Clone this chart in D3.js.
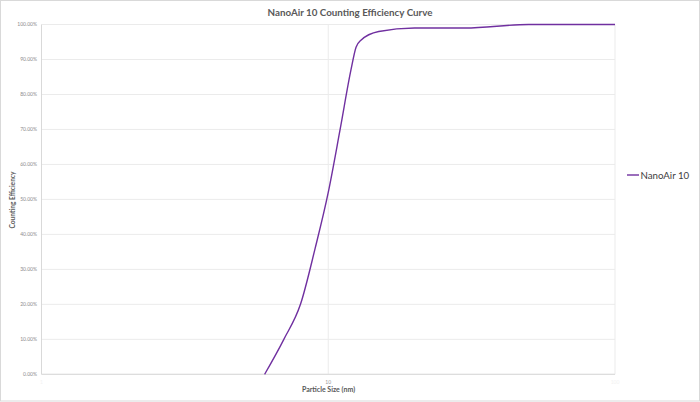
<!DOCTYPE html>
<html><head><meta charset="utf-8">
<script src="https://cdn.jsdelivr.net/npm/d3@7"></script>
<style>body{margin:0;background:#fff;}svg{display:block;}text{font-family:Lato,"Open Sans",sans-serif;}</style>
</head><body>
<svg id="c" width="700" height="402"></svg>
<script>
const sizes = [6, 7, 8, 9, 10, 11, 12, 12.5, 13, 15, 20, 30, 50, 100];
const efficiency = [0, 0.10, 0.20, 0.36, 0.52, 0.70, 0.87, 0.935, 0.955, 0.98, 0.99, 0.99, 1.0, 1.0];
const xTicks = [1, 10, 100];
const yTicks = [0, 0.1, 0.2, 0.3, 0.4, 0.5, 0.6, 0.7, 0.8, 0.9, 1.0];
const seriesName = "NanoAir 10";
const title = "NanoAir 10 Counting Efficiency Curve";

const svg = d3.select("#c");
const L = 41.5, R = 615, T = 24.5, B = 374.3;
const x = d3.scaleLog().domain([1, 100]).range([L, R]);
const y = d3.scaleLinear().domain([0, 1]).range([B, T]);

svg.append("rect").attr("x", 0.5).attr("y", 0.5).attr("width", 699).attr("height", 400.5)
  .attr("fill", "#fff").attr("stroke", "#d9d9d9");

svg.append("g").selectAll("line").data(yTicks).join("line")
  .attr("x1", L).attr("x2", R).attr("y1", d => y(d)).attr("y2", d => y(d))
  .attr("stroke", "#ebebeb").attr("stroke-width", 1);
svg.append("g").selectAll("line").data(xTicks.slice(1)).join("line")
  .attr("x1", d => x(d)).attr("x2", d => x(d)).attr("y1", T).attr("y2", B)
  .attr("stroke", "#ebebeb").attr("stroke-width", 1);
svg.append("line").attr("x1", L).attr("x2", L).attr("y1", T).attr("y2", B).attr("stroke", "#d9d9d9");
svg.append("line").attr("x1", L).attr("x2", R).attr("y1", B).attr("y2", B).attr("stroke", "#d9d9d9");

svg.append("g").selectAll("text").data(yTicks).join("text")
  .attr("x", 37).attr("y", d => y(d) + 1.8).attr("text-anchor", "end")
  .attr("font-size", 5).attr("fill", "#8c8c8c")
  .text(d => d3.format(".2%")(d));
svg.append("g").selectAll("text").data(xTicks).join("text")
  .attr("x", d => x(d)).attr("y", 384).attr("text-anchor", "middle")
  .attr("font-size", 5).attr("fill", d => d === 10 ? "#999999" : "#f2f2f2")
  .text(d => d);

const line = d3.line().x((d, i) => x(sizes[i])).y(d => y(d)).curve(d3.curveMonotoneX);
svg.append("path").datum(efficiency).attr("d", line)
  .attr("fill", "none").attr("stroke", "#7030a0").attr("stroke-width", 1.4);

svg.append("text").attr("x", 350).attr("y", 15.5).attr("text-anchor", "middle")
  .attr("font-size", 9.8).attr("font-weight", "bold").attr("fill", "#595959").text(title);
svg.append("text").attr("x", 328.5).attr("y", 392).attr("text-anchor", "middle")
  .attr("font-size", 7).attr("font-weight", "bold").attr("fill", "#595959").text("Particle Size (nm)");
svg.append("text").attr("transform", "translate(15,200) rotate(-90)").attr("text-anchor", "middle")
  .attr("font-size", 6.6).attr("font-weight", "bold").attr("fill", "#595959").text("Counting Efficiency");

svg.append("line").attr("x1", 627).attr("x2", 639).attr("y1", 175).attr("y2", 175)
  .attr("stroke", "#7030a0").attr("stroke-width", 1.4);
svg.append("text").attr("x", 640.5).attr("y", 178.5).attr("font-size", 9.7).attr("fill", "#404040").text(seriesName);
</script>
</body></html>
